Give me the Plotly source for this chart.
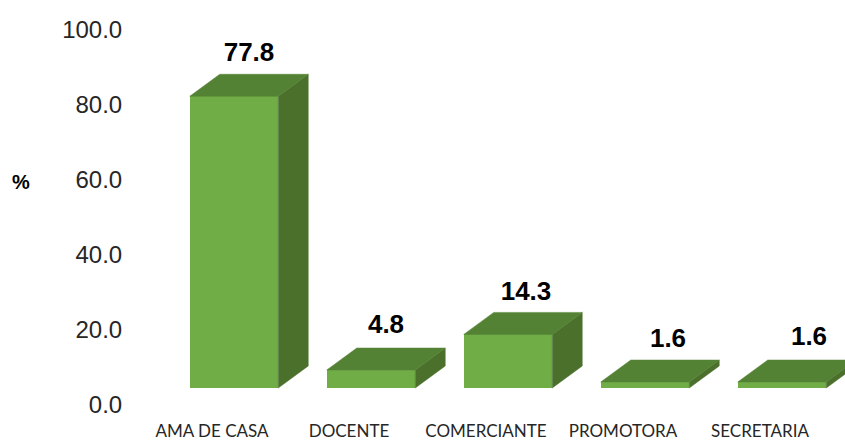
import plotly.graph_objects as go

# data
categories = ['AMA DE CASA', 'DOCENTE', 'COMERCIANTE', 'PROMOTORA', 'SECRETARIA']
values = [77.8, 4.8, 14.3, 1.6, 1.6]
y_ticks = [0, 20, 40, 60, 80, 100]

# fake 3D geometry, in axis units (137 px per category, 3.75 px per %)
PX_X = 137.0
PX_Y = 3.75
bar_width = 88.5 / PX_X
depth_x = 30 / PX_X
depth_y = 22 / PX_Y
floor = 17 / PX_Y  # the bars stand above the 0.0 tick
label_shift = -22 / PX_X
label_nudge_x = [15, 15, 18, 23, 27]  # px from the front centre
label_nudge_y = [20, 22, 19, 20, 22]  # px above the back edge

FRONT = '#70AD47'
TOP = '#548235'
SIDE = '#4B702C'


def poly_trace(xs, ys, color):
    return go.Scatter(x=xs, y=ys, mode='lines', fill='toself', fillcolor=color,
                      line=dict(color=color, width=0.5), hoverinfo='skip', showlegend=False)


top_x, top_y, side_x, side_y = [], [], [], []
for i, v in enumerate(values):
    x0 = i - bar_width / 2
    x1 = i + bar_width / 2
    y1 = floor + v
    top_x += [x0, x1, x1 + depth_x, x0 + depth_x, x0, None]
    top_y += [y1, y1, y1 + depth_y, y1 + depth_y, y1, None]
    side_x += [x1, x1 + depth_x, x1 + depth_x, x1, x1, None]
    side_y += [floor, floor + depth_y, y1 + depth_y, y1, floor, None]

fig = go.Figure()
fig.add_trace(poly_trace(side_x, side_y, SIDE))
fig.add_trace(poly_trace(top_x, top_y, TOP))
fig.add_trace(go.Bar(x=list(range(len(values))), y=values, base=floor, width=bar_width,
                     marker=dict(color=FRONT, line=dict(width=0)), showlegend=False))
fig.add_trace(go.Scatter(x=[i + n / PX_X for i, n in enumerate(label_nudge_x)],
                         y=[v + floor + depth_y + n / PX_Y for v, n in zip(values, label_nudge_y)],
                         mode='text', text=[f'{v:.1f}' for v in values],
                         textposition='middle center',
                         textfont=dict(family='Liberation Sans', size=26, color='#000000'),
                         texttemplate='<b>%{text}</b>', hoverinfo='skip', showlegend=False))

fig.add_annotation(text='<b>%</b>', xref='paper', yref='paper', showarrow=False,
                   x=(21 - 128) / (845 - 128), y=(410 - 182) / 400, xanchor='center', yanchor='middle',
                   font=dict(family='Liberation Sans', size=20, color='#000000'))

fig.update_layout(width=845, height=440, margin=dict(l=128, r=0, t=10, b=30),
                  paper_bgcolor='white', plot_bgcolor='white', bargap=0, font_family='Liberation Sans')
fig.update_xaxes(range=[(128 - 234) / PX_X, (845 - 234) / PX_X], automargin=False,
                 showgrid=False, zeroline=False, showline=False,
                 tickvals=[i + label_shift for i in range(len(categories))], ticktext=categories,
                 ticks='outside', ticklen=6, tickcolor='rgba(0,0,0,0)', tickangle=0,
                 tickfont=dict(family='Lato', size=17, color='#262626'))
fig.update_yaxes(range=[-5 / PX_Y, 395 / PX_Y], automargin=False,
                 showgrid=False, zeroline=False, showline=False,
                 tickvals=y_ticks, ticktext=[f'{t:.1f}' for t in y_ticks],
                 ticks='outside', ticklen=0, tickcolor='rgba(0,0,0,0)',
                 tickfont=dict(family='Liberation Sans', size=24, color='#262626'))

# page margin off so the figure fills the window
fig.write_html("out.html", config=dict(displayModeBar=False),
               post_script="document.body.style.margin='0';")
